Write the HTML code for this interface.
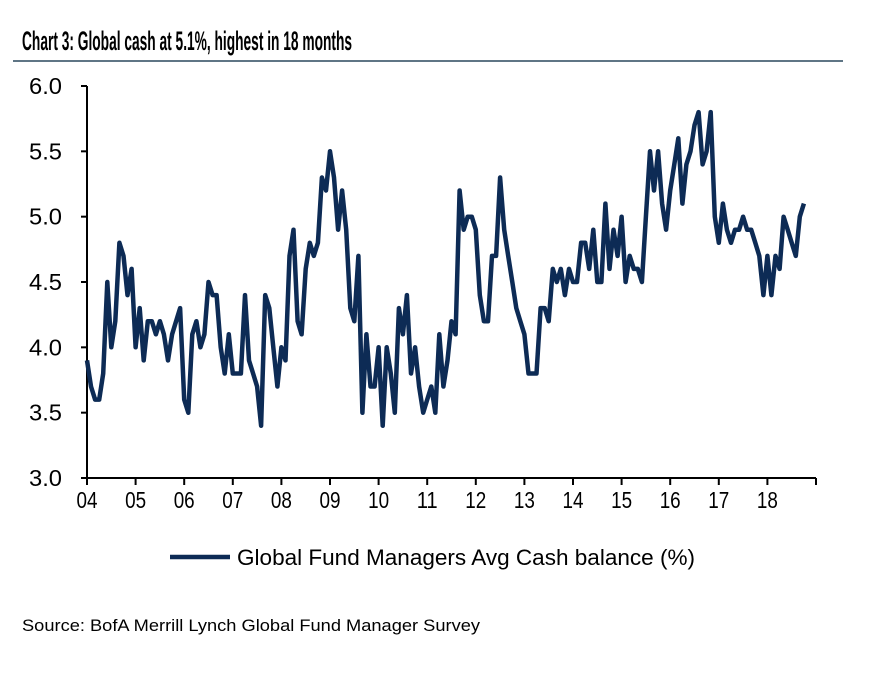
<!DOCTYPE html>
<html><head><meta charset="utf-8"><style>
body{margin:0;background:#fff;}
svg text{font-family:"Liberation Sans",sans-serif;fill:#000;}
</style></head><body>
<svg width="869" height="689" viewBox="0 0 869 689">
<text x="22" y="50" font-size="27" font-weight="bold" textLength="330" lengthAdjust="spacingAndGlyphs">Chart 3: Global cash at 5.1%, highest in 18 months</text>
<rect x="13" y="60" width="830" height="2" fill="#5f7585"/>
<g id="axes"></g>
<path id="line" fill="none" stroke="#0d2b55" stroke-width="4.5" stroke-linejoin="round"/>
<line x1="170" y1="557" x2="230" y2="557" stroke="#0d2b55" stroke-width="4.5"/>
<text x="237" y="565" font-size="22" textLength="458" lengthAdjust="spacingAndGlyphs">Global Fund Managers Avg Cash balance (%)</text>
<text x="22" y="631" font-size="17" textLength="458" lengthAdjust="spacingAndGlyphs">Source: BofA Merrill Lynch Global Fund Manager Survey</text>
</svg>
<script>
const yTicks=[3.0,3.5,4.0,4.5,5.0,5.5,6.0];
const yearLabels=["04","05","06","07","08","09","10","11","12","13","14","15","16","17","18"];
const cash=[
3.9,3.7,3.6,3.6,3.8,4.5,4.0,4.2,4.8,4.7,4.4,4.6,
4.0,4.3,3.9,4.2,4.2,4.1,4.2,4.1,3.9,4.1,4.2,4.3,
3.6,3.5,4.1,4.2,4.0,4.1,4.5,4.4,4.4,4.0,3.8,4.1,
3.8,3.8,3.8,4.4,3.9,3.8,3.7,3.4,4.4,4.3,4.0,3.7,
4.0,3.9,4.7,4.9,4.2,4.1,4.6,4.8,4.7,4.8,5.3,5.2,
5.5,5.3,4.9,5.2,4.9,4.3,4.2,4.7,3.5,4.1,3.7,3.7,
4.0,3.4,4.0,3.8,3.5,4.3,4.1,4.4,3.8,4.0,3.7,3.5,
3.6,3.7,3.5,4.1,3.7,3.9,4.2,4.1,5.2,4.9,5.0,5.0,
4.9,4.4,4.2,4.2,4.7,4.7,5.3,4.9,4.7,4.5,4.3,4.2,
4.1,3.8,3.8,3.8,4.3,4.3,4.2,4.6,4.5,4.6,4.4,4.6,
4.5,4.5,4.8,4.8,4.6,4.9,4.5,4.5,5.1,4.6,4.9,4.7,
5.0,4.5,4.7,4.6,4.6,4.5,5.0,5.5,5.2,5.5,5.1,4.9,
5.2,5.4,5.6,5.1,5.4,5.5,5.7,5.8,5.4,5.5,5.8,5.0,
4.8,5.1,4.9,4.8,4.9,4.9,5.0,4.9,4.9,4.8,4.7,4.4,
4.7,4.4,4.7,4.6,5.0,4.9,4.8,4.7,5.0,5.1];
const X0=87,YEARW=48.6,Y0=478,Y1=86;
const xm=i=>X0+i*YEARW/12;
const ys=v=>Y0-(v-3)/(6-3)*(Y0-Y1);
const NS="http://www.w3.org/2000/svg";
const g=document.getElementById('axes');
function mk(t,a){const e=document.createElementNS(NS,t);for(const k in a)e.setAttribute(k,a[k]);g.appendChild(e);return e;}
const ya=mk('line',{x1:X0,y1:Y1,x2:X0,y2:Y0,stroke:'#000','stroke-width':2});


const xa=mk('line',{x1:X0,y1:Y0,x2:X0+15*YEARW,y2:Y0,stroke:'#000','stroke-width':2});


yTicks.forEach(v=>{
 mk('line',{x1:X0-6,y1:ys(v),x2:X0,y2:ys(v),stroke:'#000','stroke-width':2});
 const t=mk('text',{x:62,y:ys(v)+8,'font-size':23,'text-anchor':'end',textLength:33,lengthAdjust:'spacingAndGlyphs'});
 t.textContent=v.toFixed(1);
 
 
});
for(let i=0;i<=15;i++){mk('line',{x1:X0+i*YEARW,y1:Y0,x2:X0+i*YEARW,y2:Y0+7,stroke:'#000','stroke-width':2});}
yearLabels.forEach((l,i)=>{
 const t=mk('text',{x:X0+i*YEARW,y:508,'font-size':23,'text-anchor':'middle',textLength:21,lengthAdjust:'spacingAndGlyphs'});
 t.textContent=l;
 
 
});
document.getElementById('line').setAttribute('d',cash.map((v,i)=>(i?'L':'M')+xm(i).toFixed(1)+','+ys(v).toFixed(1)).join(''));
</script>
</body></html>
